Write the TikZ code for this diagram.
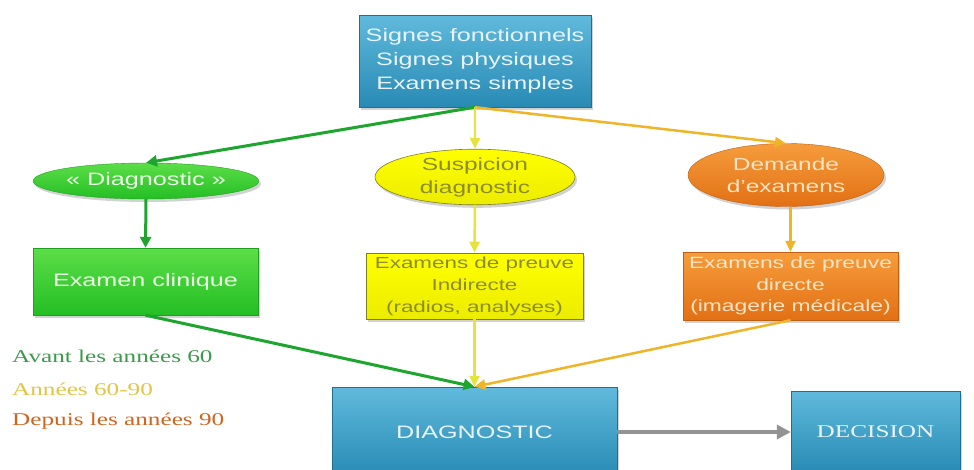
\documentclass[tikz,border=0pt]{standalone}
\usepackage{fontspec}
\usepackage{graphicx}
\setmainfont{Liberation Serif}
\newfontfamily\arialf{Liberation Sans}
\usetikzlibrary{arrows.meta,shapes.geometric,shadows}
\newcommand\hs[1]{\scalebox{1.4}[1]{#1}}
\definecolor{tealtop}{RGB}{96,186,220}
\definecolor{tealbot}{RGB}{40,138,180}
\definecolor{tealtxt}{RGB}{230,243,249}
\definecolor{grtop}{RGB}{92,222,72}
\definecolor{grbot}{RGB}{36,190,36}
\definecolor{grtxt}{RGB}{236,250,230}
\definecolor{grline}{RGB}{30,165,45}
\definecolor{yefill}{RGB}{255,255,0}
\definecolor{yebot}{RGB}{236,236,0}
\definecolor{yetxt}{RGB}{140,140,44}
\definecolor{yeline}{RGB}{228,228,60}
\definecolor{ortop}{RGB}{246,156,60}
\definecolor{orbot}{RGB}{226,112,20}
\definecolor{ortxt}{RGB}{252,228,196}
\definecolor{goline}{RGB}{240,180,40}
\definecolor{leggreen}{RGB}{60,154,76}
\definecolor{legyellow}{RGB}{228,196,70}
\definecolor{legorange}{RGB}{208,100,30}
\tikzset{
  shade/.style={drop shadow={shadow xshift=2pt,shadow yshift=-3pt,opacity=0.35}},
  tealbox/.style={rectangle,shade,top color=tealtop,bottom color=tealbot,draw=tealbot!80!black,line width=0.4pt,
    text=tealtxt,align=center,inner sep=0pt,font=\arialf\fontsize{18}{24}\selectfont},
  grnode/.style={shade,top color=grtop,bottom color=grbot,draw=grbot!85!black,line width=0.4pt,
    text=grtxt,align=center,inner sep=0pt,font=\arialf\fontsize{18}{24}\selectfont},
  yenode/.style={shade,top color=yefill,bottom color=yebot,draw=yetxt!90!black,line width=0.6pt,
    text=yetxt,align=center,inner sep=0pt},
  ornode/.style={shade,top color=ortop,bottom color=orbot,draw=orbot!85!black,line width=0.4pt,
    text=ortxt,align=center,inner sep=0pt},
  grarr/.style={draw=grline,line width=3pt,-{Triangle[length=11pt,width=11pt]}},
  yearr/.style={draw=yeline,line width=2.5pt,-{Triangle[length=11pt,width=10pt]}},
  goarr/.style={draw=goline,line width=2.5pt,-{Triangle[length=11pt,width=10pt]}},
  grayarr/.style={draw=gray!85,line width=4pt,-{Triangle[length=14pt,width=14pt]}},
  legend/.style={anchor=base west,inner sep=0pt,font=\fontsize{18}{22}\selectfont}
}
\begin{document}
\begin{tikzpicture}[x=1pt,y=-1pt]
\clip (0,0) rectangle (974,469);
\fill[white] (0,0) rectangle (974,469);

\node[tealbox,minimum width=232pt,minimum height=92pt] (top) at (475,61)
  {\hs{Signes fonctionnels}\\\hs{Signes physiques}\\\hs{Examens simples}};

\node[grnode,ellipse,minimum width=202pt,minimum height=36pt] (dg) at (146,181) {\hs{« Diagnostic »}};
\node[yenode,ellipse,minimum width=200pt,minimum height=54pt,font=\arialf\fontsize{17.5}{23}\selectfont] (sus) at (475,177)
  {\hs{Suspicion}\\\hs{diagnostic}};
\node[ornode,ellipse,minimum width=196pt,minimum height=63pt,font=\arialf\fontsize{17.5}{22}\selectfont] (dem) at (786,175)
  {\hs{Demande}\\\hs{d’examens}};

\node[grnode,rectangle,minimum width=225pt,minimum height=67pt] (clin) at (145.5,281.5) {\hs{Examen clinique}};
\node[yenode,rectangle,minimum width=217pt,minimum height=66pt,font=\arialf\fontsize{16}{22}\selectfont] (ind) at (474.5,286)
  {\hs{Examens de preuve}\\\hs{Indirecte}\\\hs{(radios, analyses)}};
\node[ornode,rectangle,minimum width=215pt,minimum height=68pt,font=\arialf\fontsize{16.3}{21.5}\selectfont] (dir) at (790.5,286)
  {\hs{Examens de preuve}\\\hs{directe}\\\hs{(imagerie médicale)}};

\node[tealbox,minimum width=285pt,minimum height=90pt] (diag) at (474.5,432) {\hs{DIAGNOSTIC}};
\node[tealbox,minimum width=169pt,minimum height=82pt,font=\fontsize{18}{22}\selectfont] (dec) at (875.5,432) {\hs{DECISION}};

\draw[grarr] (top.south) -- (dg.north);
\draw[yearr] (top.south) -- (sus.north);
\draw[goarr] (top.south) -- (dem.north);
\draw[grarr] (dg.south) -- (clin.north);
\draw[yearr] (sus.south) -- (ind.north);
\draw[goarr] (dir.north |- dem.south) -- (dir.north);
\draw[grarr] (clin.south) -- (diag.north);
\draw[yearr] (ind.south) -- (diag.north);
\draw[goarr] (dir.south) -- (diag.north);
\draw[grayarr] (diag.east) -- (dec.west);

\node[legend,text=leggreen] (l1) at (12,362) {\hs{Avant les années 60}};
\node[legend,text=legyellow] (l2) at (12,395) {\hs{Années 60-90}};
\node[legend,text=legorange] (l3) at (12,425) {\hs{Depuis les années 90}};
\end{tikzpicture}
\end{document}
